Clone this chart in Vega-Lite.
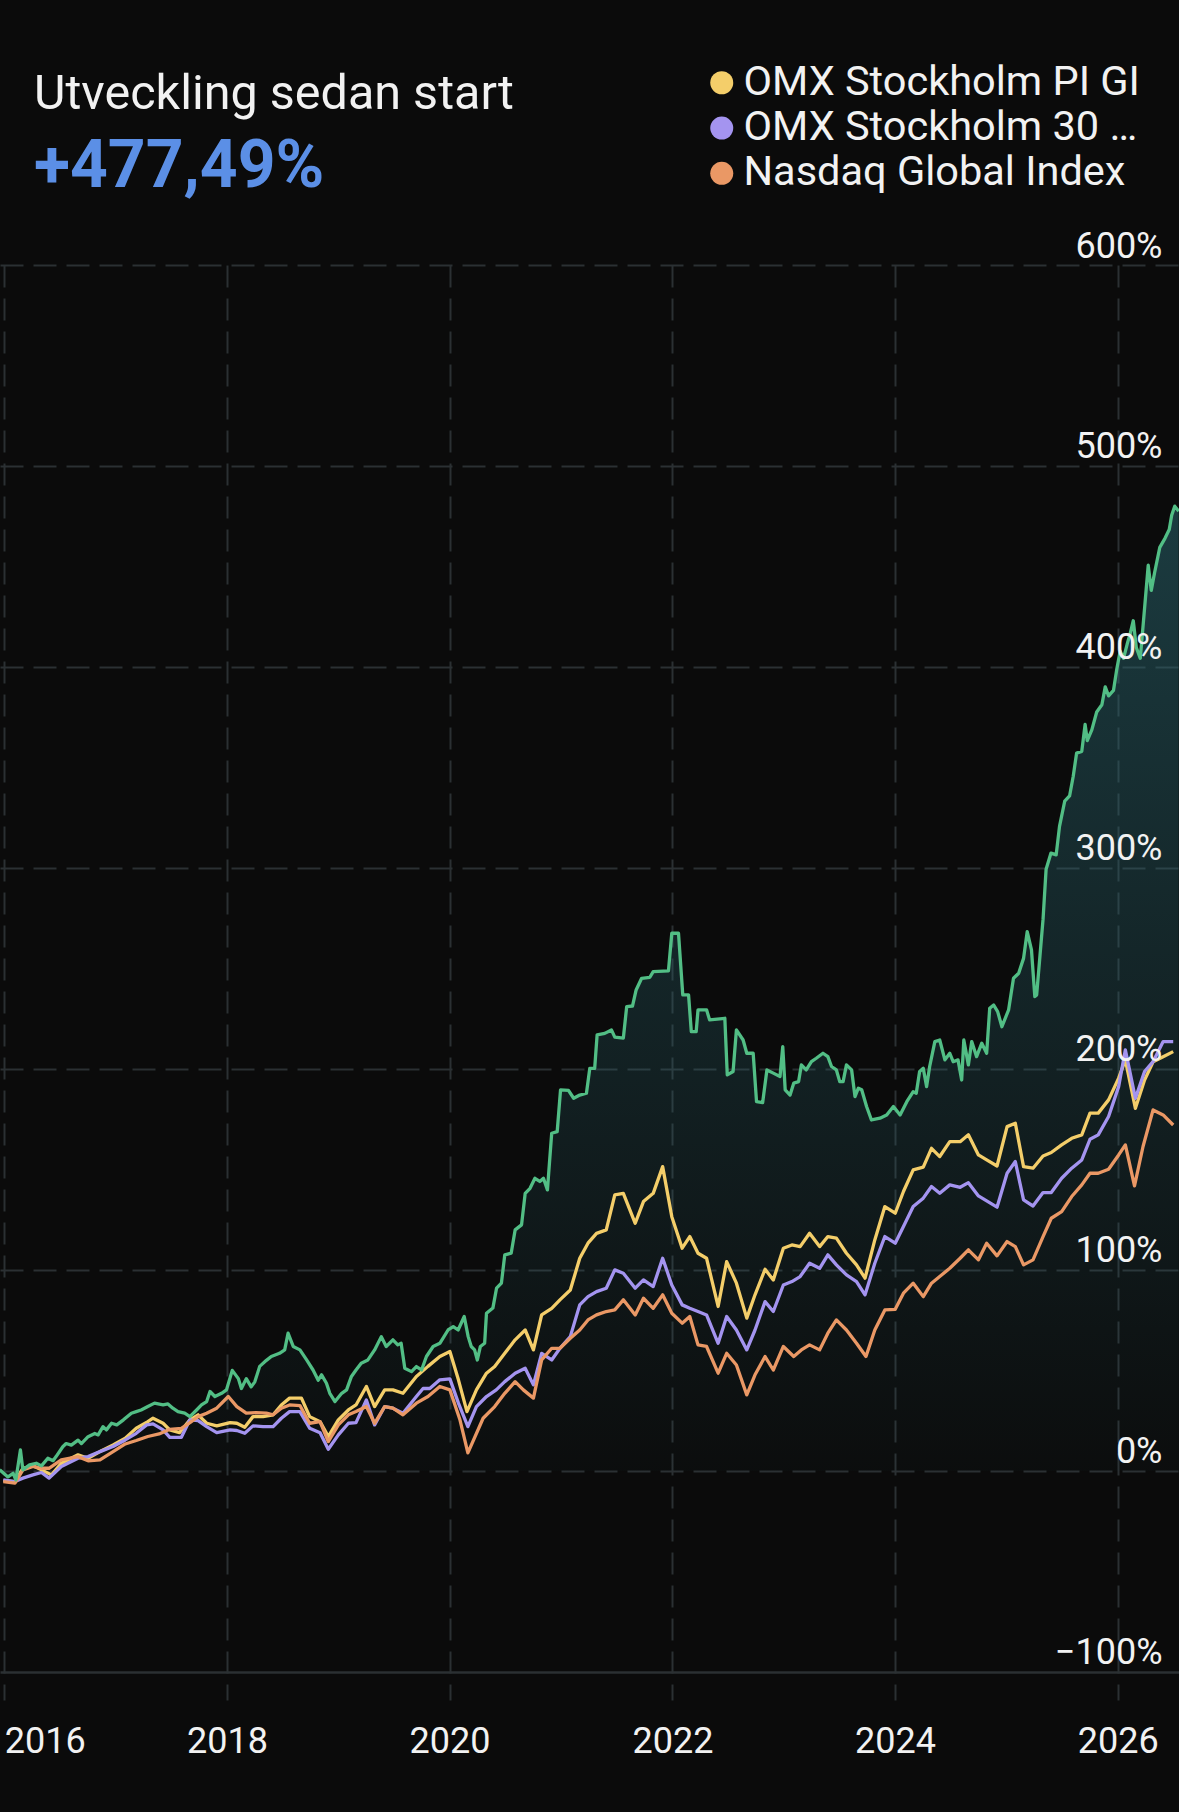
{
  "$schema": "https://vega.github.io/schema/vega-lite/v6.json",
  "width": 1179,
  "height": 1435,
  "autosize": {"type": "none"},
  "padding": {"left": 0, "top": 265, "right": 0, "bottom": 112},
  "background": "#0b0b0b",
  "title": {
    "text": "Utveckling sedan start",
    "subtitle": "+477,49%",
    "anchor": "start",
    "frame": "group",
    "dx": 34,
    "offset": -139,
    "font": "Roboto",
    "fontSize": 48.5,
    "fontWeight": "normal",
    "color": "#f2f2f2",
    "subtitleFont": "Roboto",
    "subtitleFontSize": 66,
    "subtitleFontWeight": "bold",
    "subtitleColor": "#5b8fe6",
    "subtitlePadding": 16
  },
  "datasets": {
    "fund": [
      {"date": "2015-12-17", "value": 0.5}, {"date": "2016-01-13", "value": -3}, {"date": "2016-01-30", "value": -1.2},
      {"date": "2016-02-08", "value": -4.5}, {"date": "2016-02-23", "value": 10.4}, {"date": "2016-03-02", "value": 0.5},
      {"date": "2016-03-24", "value": 3}, {"date": "2016-04-15", "value": 3.8}, {"date": "2016-05-02", "value": 2.5},
      {"date": "2016-05-23", "value": 6.3}, {"date": "2016-06-09", "value": 5.1}, {"date": "2016-06-19", "value": 7.1},
      {"date": "2016-07-11", "value": 12}, {"date": "2016-07-22", "value": 13.6}, {"date": "2016-08-08", "value": 12.8},
      {"date": "2016-08-30", "value": 15.3}, {"date": "2016-09-10", "value": 13.6}, {"date": "2016-10-02", "value": 17},
      {"date": "2016-10-24", "value": 18.6}, {"date": "2016-11-04", "value": 17.9}, {"date": "2016-11-20", "value": 22},
      {"date": "2016-12-01", "value": 20.4}, {"date": "2016-12-18", "value": 23.7}, {"date": "2017-01-04", "value": 22.9},
      {"date": "2017-01-26", "value": 25.4}, {"date": "2017-02-21", "value": 28.7}, {"date": "2017-03-09", "value": 29.5},
      {"date": "2017-03-25", "value": 30.3}, {"date": "2017-04-16", "value": 32}, {"date": "2017-05-08", "value": 33.7},
      {"date": "2017-06-05", "value": 32.8}, {"date": "2017-06-21", "value": 33.3}, {"date": "2017-07-07", "value": 31.2},
      {"date": "2017-07-24", "value": 29.5}, {"date": "2017-08-15", "value": 28.7}, {"date": "2017-09-01", "value": 27},
      {"date": "2017-09-23", "value": 30.3}, {"date": "2017-10-09", "value": 32.8}, {"date": "2017-10-26", "value": 34.5},
      {"date": "2017-11-06", "value": 39.5}, {"date": "2017-11-22", "value": 37}, {"date": "2017-12-14", "value": 38.6},
      {"date": "2017-12-30", "value": 40.3}, {"date": "2018-01-18", "value": 50}, {"date": "2018-02-07", "value": 45.9},
      {"date": "2018-02-17", "value": 41}, {"date": "2018-03-05", "value": 45.9}, {"date": "2018-03-21", "value": 41.8},
      {"date": "2018-04-02", "value": 44.3}, {"date": "2018-04-18", "value": 52}, {"date": "2018-05-10", "value": 55},
      {"date": "2018-05-26", "value": 56.9}, {"date": "2018-06-22", "value": 58.5}, {"date": "2018-07-09", "value": 60.2},
      {"date": "2018-07-20", "value": 68.5}, {"date": "2018-08-06", "value": 61.9}, {"date": "2018-08-28", "value": 60.2},
      {"date": "2018-09-19", "value": 55.2}, {"date": "2018-10-10", "value": 50.2}, {"date": "2018-10-27", "value": 45.1},
      {"date": "2018-11-07", "value": 47.8}, {"date": "2018-11-23", "value": 43.6}, {"date": "2018-12-04", "value": 38.6},
      {"date": "2018-12-21", "value": 34.5}, {"date": "2019-01-12", "value": 38.6}, {"date": "2019-01-28", "value": 40.3},
      {"date": "2019-02-13", "value": 47}, {"date": "2019-02-28", "value": 50.2}, {"date": "2019-03-17", "value": 53.6},
      {"date": "2019-04-08", "value": 55.2}, {"date": "2019-04-30", "value": 60.2}, {"date": "2019-05-22", "value": 66.8},
      {"date": "2019-06-07", "value": 61.9}, {"date": "2019-06-29", "value": 65.2}, {"date": "2019-07-15", "value": 62.7},
      {"date": "2019-07-26", "value": 63.5}, {"date": "2019-08-07", "value": 51.1}, {"date": "2019-08-29", "value": 49.4},
      {"date": "2019-09-14", "value": 51.9}, {"date": "2019-10-01", "value": 50.2}, {"date": "2019-10-17", "value": 56.9},
      {"date": "2019-11-08", "value": 61.9}, {"date": "2019-11-30", "value": 63.5}, {"date": "2019-12-27", "value": 70.1},
      {"date": "2020-01-13", "value": 71.8}, {"date": "2020-01-29", "value": 70.1}, {"date": "2020-02-18", "value": 76.8},
      {"date": "2020-03-02", "value": 66.8}, {"date": "2020-03-12", "value": 61.9}, {"date": "2020-03-23", "value": 60.2},
      {"date": "2020-04-01", "value": 55.2}, {"date": "2020-04-11", "value": 61.9}, {"date": "2020-04-25", "value": 63.5},
      {"date": "2020-05-01", "value": 78.4}, {"date": "2020-05-22", "value": 81}, {"date": "2020-06-03", "value": 90.9},
      {"date": "2020-06-19", "value": 93.4}, {"date": "2020-06-30", "value": 107.5}, {"date": "2020-07-21", "value": 108.3},
      {"date": "2020-08-03", "value": 119.9}, {"date": "2020-08-24", "value": 122.4}, {"date": "2020-09-05", "value": 138.1},
      {"date": "2020-09-21", "value": 140.6}, {"date": "2020-10-07", "value": 145.6}, {"date": "2020-10-23", "value": 144},
      {"date": "2020-11-04", "value": 145.6}, {"date": "2020-11-17", "value": 139.8}, {"date": "2020-12-01", "value": 168},
      {"date": "2020-12-19", "value": 168.8}, {"date": "2020-12-30", "value": 189.6}, {"date": "2021-01-25", "value": 189.3},
      {"date": "2021-02-11", "value": 185.4}, {"date": "2021-03-03", "value": 187}, {"date": "2021-03-25", "value": 187.9},
      {"date": "2021-04-05", "value": 200.3}, {"date": "2021-04-21", "value": 200.3}, {"date": "2021-04-29", "value": 216.9},
      {"date": "2021-05-24", "value": 217.7}, {"date": "2021-06-15", "value": 219.4}, {"date": "2021-06-26", "value": 215.8},
      {"date": "2021-07-24", "value": 215.3}, {"date": "2021-08-04", "value": 231}, {"date": "2021-08-23", "value": 231.3},
      {"date": "2021-09-04", "value": 239.3}, {"date": "2021-09-22", "value": 245.1}, {"date": "2021-10-19", "value": 245.6},
      {"date": "2021-10-30", "value": 248.4}, {"date": "2021-12-19", "value": 248.8}, {"date": "2021-12-30", "value": 267.5},
      {"date": "2022-01-21", "value": 267.5}, {"date": "2022-02-04", "value": 236.8}, {"date": "2022-02-23", "value": 236.8},
      {"date": "2022-03-04", "value": 218.6}, {"date": "2022-03-20", "value": 218.6}, {"date": "2022-03-26", "value": 229.4},
      {"date": "2022-04-23", "value": 229.4}, {"date": "2022-05-03", "value": 224.4}, {"date": "2022-06-22", "value": 225.2},
      {"date": "2022-06-30", "value": 197}, {"date": "2022-07-19", "value": 198.7}, {"date": "2022-07-30", "value": 219.4},
      {"date": "2022-08-21", "value": 214.4}, {"date": "2022-09-02", "value": 207.8}, {"date": "2022-09-23", "value": 207.8},
      {"date": "2022-10-04", "value": 183.7}, {"date": "2022-10-24", "value": 183.2}, {"date": "2022-11-07", "value": 199.5},
      {"date": "2022-11-28", "value": 197.9}, {"date": "2022-12-20", "value": 196.2}, {"date": "2022-12-29", "value": 211.1},
      {"date": "2023-01-06", "value": 189.6}, {"date": "2023-01-22", "value": 187}, {"date": "2023-02-03", "value": 192.9},
      {"date": "2023-02-19", "value": 193.7}, {"date": "2023-02-28", "value": 202}, {"date": "2023-03-16", "value": 199.5},
      {"date": "2023-04-02", "value": 203.6}, {"date": "2023-04-18", "value": 205.3}, {"date": "2023-05-10", "value": 207.8},
      {"date": "2023-05-26", "value": 206.1}, {"date": "2023-06-07", "value": 201.2}, {"date": "2023-06-23", "value": 199.5},
      {"date": "2023-07-04", "value": 193.7}, {"date": "2023-07-15", "value": 193.7}, {"date": "2023-07-26", "value": 202},
      {"date": "2023-08-12", "value": 199.5}, {"date": "2023-08-23", "value": 186.2}, {"date": "2023-09-03", "value": 190.4},
      {"date": "2023-09-14", "value": 189.6}, {"date": "2023-09-30", "value": 181.3}, {"date": "2023-10-16", "value": 174.6},
      {"date": "2023-11-13", "value": 175.5}, {"date": "2023-12-05", "value": 177.1}, {"date": "2023-12-27", "value": 181.3},
      {"date": "2024-01-18", "value": 177.1}, {"date": "2024-02-09", "value": 183.7}, {"date": "2024-03-01", "value": 188.7},
      {"date": "2024-03-11", "value": 187.9}, {"date": "2024-03-22", "value": 198.7}, {"date": "2024-04-03", "value": 200.3},
      {"date": "2024-04-14", "value": 191.2}, {"date": "2024-04-24", "value": 201.2}, {"date": "2024-05-11", "value": 213.6},
      {"date": "2024-05-27", "value": 214.4}, {"date": "2024-06-13", "value": 204.5}, {"date": "2024-06-29", "value": 207.8},
      {"date": "2024-07-10", "value": 203.6}, {"date": "2024-07-26", "value": 204.5}, {"date": "2024-08-07", "value": 194.5},
      {"date": "2024-08-14", "value": 214.4}, {"date": "2024-08-29", "value": 202}, {"date": "2024-09-09", "value": 213.6},
      {"date": "2024-09-25", "value": 206.1}, {"date": "2024-10-12", "value": 212.8}, {"date": "2024-10-28", "value": 207.8},
      {"date": "2024-11-07", "value": 230.2}, {"date": "2024-11-20", "value": 231.8}, {"date": "2024-12-03", "value": 228.5},
      {"date": "2024-12-17", "value": 221}, {"date": "2025-01-08", "value": 229.4}, {"date": "2025-01-24", "value": 245.1},
      {"date": "2025-02-10", "value": 247.6}, {"date": "2025-02-26", "value": 255}, {"date": "2025-03-10", "value": 268.3},
      {"date": "2025-03-24", "value": 259.2}, {"date": "2025-04-04", "value": 236}, {"date": "2025-04-10", "value": 236.8},
      {"date": "2025-04-21", "value": 256.5}, {"date": "2025-05-01", "value": 274.5}, {"date": "2025-05-11", "value": 299.4},
      {"date": "2025-05-27", "value": 307.4}, {"date": "2025-06-13", "value": 306.5}, {"date": "2025-06-24", "value": 320.7},
      {"date": "2025-07-11", "value": 333.2}, {"date": "2025-07-27", "value": 335.8}, {"date": "2025-08-08", "value": 345.6},
      {"date": "2025-08-19", "value": 357.1}, {"date": "2025-09-05", "value": 358}, {"date": "2025-09-16", "value": 371.4},
      {"date": "2025-09-23", "value": 363.4}, {"date": "2025-10-08", "value": 368.7}, {"date": "2025-10-24", "value": 377.6},
      {"date": "2025-11-10", "value": 381.2}, {"date": "2025-11-21", "value": 390.1}, {"date": "2025-12-02", "value": 385.6},
      {"date": "2025-12-18", "value": 388.3}, {"date": "2025-12-29", "value": 399}, {"date": "2026-01-09", "value": 407.9},
      {"date": "2026-01-20", "value": 404.3}, {"date": "2026-02-01", "value": 411.4}, {"date": "2026-02-11", "value": 416.7},
      {"date": "2026-02-21", "value": 423}, {"date": "2026-03-03", "value": 409.6}, {"date": "2026-03-16", "value": 404.3},
      {"date": "2026-03-30", "value": 429.2}, {"date": "2026-04-11", "value": 450.6}, {"date": "2026-04-21", "value": 438.1},
      {"date": "2026-05-02", "value": 447}, {"date": "2026-05-19", "value": 459.5}, {"date": "2026-06-05", "value": 464},
      {"date": "2026-06-19", "value": 468.4}, {"date": "2026-06-27", "value": 475.5}, {"date": "2026-07-07", "value": 480},
      {"date": "2026-07-20", "value": 477.49}
    ],
    "idx": [
      {"date": "2015-12-29", "series": "OMX Stockholm PI GI", "value": -4.8},
      {"date": "2016-02-05", "series": "OMX Stockholm PI GI", "value": -5.3},
      {"date": "2016-03-02", "series": "OMX Stockholm PI GI", "value": 1.3},
      {"date": "2016-04-04", "series": "OMX Stockholm PI GI", "value": 2.5},
      {"date": "2016-05-02", "series": "OMX Stockholm PI GI", "value": 0.5},
      {"date": "2016-06-04", "series": "OMX Stockholm PI GI", "value": -2},
      {"date": "2016-07-06", "series": "OMX Stockholm PI GI", "value": 3.8},
      {"date": "2016-08-30", "series": "OMX Stockholm PI GI", "value": 8},
      {"date": "2016-10-02", "series": "OMX Stockholm PI GI", "value": 6.3},
      {"date": "2016-11-10", "series": "OMX Stockholm PI GI", "value": 9.6},
      {"date": "2016-12-23", "series": "OMX Stockholm PI GI", "value": 12.9},
      {"date": "2017-02-01", "series": "OMX Stockholm PI GI", "value": 16.3},
      {"date": "2017-03-09", "series": "OMX Stockholm PI GI", "value": 21.2},
      {"date": "2017-04-16", "series": "OMX Stockholm PI GI", "value": 24.5},
      {"date": "2017-05-03", "series": "OMX Stockholm PI GI", "value": 26.2},
      {"date": "2017-06-05", "series": "OMX Stockholm PI GI", "value": 23.7},
      {"date": "2017-06-27", "series": "OMX Stockholm PI GI", "value": 20.4},
      {"date": "2017-07-29", "series": "OMX Stockholm PI GI", "value": 19},
      {"date": "2017-09-01", "series": "OMX Stockholm PI GI", "value": 25.4},
      {"date": "2017-09-28", "series": "OMX Stockholm PI GI", "value": 27.9},
      {"date": "2017-10-26", "series": "OMX Stockholm PI GI", "value": 23.7},
      {"date": "2017-11-28", "series": "OMX Stockholm PI GI", "value": 22.4},
      {"date": "2018-01-11", "series": "OMX Stockholm PI GI", "value": 24},
      {"date": "2018-02-02", "series": "OMX Stockholm PI GI", "value": 23.7},
      {"date": "2018-02-28", "series": "OMX Stockholm PI GI", "value": 21.7},
      {"date": "2018-03-27", "series": "OMX Stockholm PI GI", "value": 27},
      {"date": "2018-04-29", "series": "OMX Stockholm PI GI", "value": 27},
      {"date": "2018-06-01", "series": "OMX Stockholm PI GI", "value": 27.9},
      {"date": "2018-06-28", "series": "OMX Stockholm PI GI", "value": 32.8},
      {"date": "2018-07-25", "series": "OMX Stockholm PI GI", "value": 36.2},
      {"date": "2018-09-02", "series": "OMX Stockholm PI GI", "value": 36.2},
      {"date": "2018-09-29", "series": "OMX Stockholm PI GI", "value": 27},
      {"date": "2018-11-02", "series": "OMX Stockholm PI GI", "value": 24.5},
      {"date": "2018-11-29", "series": "OMX Stockholm PI GI", "value": 17.1},
      {"date": "2019-01-01", "series": "OMX Stockholm PI GI", "value": 25.4},
      {"date": "2019-02-03", "series": "OMX Stockholm PI GI", "value": 30.3},
      {"date": "2019-02-28", "series": "OMX Stockholm PI GI", "value": 32.8},
      {"date": "2019-04-03", "series": "OMX Stockholm PI GI", "value": 42},
      {"date": "2019-04-30", "series": "OMX Stockholm PI GI", "value": 32},
      {"date": "2019-06-02", "series": "OMX Stockholm PI GI", "value": 40.3},
      {"date": "2019-06-29", "series": "OMX Stockholm PI GI", "value": 40.3},
      {"date": "2019-08-01", "series": "OMX Stockholm PI GI", "value": 38.6},
      {"date": "2019-09-14", "series": "OMX Stockholm PI GI", "value": 47},
      {"date": "2019-10-22", "series": "OMX Stockholm PI GI", "value": 52},
      {"date": "2019-11-30", "series": "OMX Stockholm PI GI", "value": 56.9},
      {"date": "2020-01-02", "series": "OMX Stockholm PI GI", "value": 59.4},
      {"date": "2020-01-30", "series": "OMX Stockholm PI GI", "value": 45.3},
      {"date": "2020-02-27", "series": "OMX Stockholm PI GI", "value": 29.5},
      {"date": "2020-03-29", "series": "OMX Stockholm PI GI", "value": 40.3},
      {"date": "2020-05-01", "series": "OMX Stockholm PI GI", "value": 48.6},
      {"date": "2020-05-28", "series": "OMX Stockholm PI GI", "value": 51.9},
      {"date": "2020-06-30", "series": "OMX Stockholm PI GI", "value": 58.5},
      {"date": "2020-08-03", "series": "OMX Stockholm PI GI", "value": 65.2},
      {"date": "2020-09-05", "series": "OMX Stockholm PI GI", "value": 70.1},
      {"date": "2020-10-02", "series": "OMX Stockholm PI GI", "value": 60.2},
      {"date": "2020-10-29", "series": "OMX Stockholm PI GI", "value": 77.6},
      {"date": "2020-12-01", "series": "OMX Stockholm PI GI", "value": 80.9},
      {"date": "2020-12-28", "series": "OMX Stockholm PI GI", "value": 85.1},
      {"date": "2021-01-31", "series": "OMX Stockholm PI GI", "value": 90},
      {"date": "2021-03-03", "series": "OMX Stockholm PI GI", "value": 105.8},
      {"date": "2021-03-30", "series": "OMX Stockholm PI GI", "value": 113.3},
      {"date": "2021-04-27", "series": "OMX Stockholm PI GI", "value": 118.2},
      {"date": "2021-05-29", "series": "OMX Stockholm PI GI", "value": 119.9},
      {"date": "2021-06-26", "series": "OMX Stockholm PI GI", "value": 137.3},
      {"date": "2021-07-24", "series": "OMX Stockholm PI GI", "value": 138.1},
      {"date": "2021-09-01", "series": "OMX Stockholm PI GI", "value": 123.2},
      {"date": "2021-09-28", "series": "OMX Stockholm PI GI", "value": 134},
      {"date": "2021-10-30", "series": "OMX Stockholm PI GI", "value": 138.1},
      {"date": "2021-11-30", "series": "OMX Stockholm PI GI", "value": 151.4},
      {"date": "2021-12-30", "series": "OMX Stockholm PI GI", "value": 126.5},
      {"date": "2022-02-02", "series": "OMX Stockholm PI GI", "value": 110.8},
      {"date": "2022-02-27", "series": "OMX Stockholm PI GI", "value": 116.6},
      {"date": "2022-03-26", "series": "OMX Stockholm PI GI", "value": 108.3},
      {"date": "2022-04-23", "series": "OMX Stockholm PI GI", "value": 105.8},
      {"date": "2022-05-31", "series": "OMX Stockholm PI GI", "value": 81.8},
      {"date": "2022-06-28", "series": "OMX Stockholm PI GI", "value": 104.1},
      {"date": "2022-07-30", "series": "OMX Stockholm PI GI", "value": 93.4},
      {"date": "2022-09-02", "series": "OMX Stockholm PI GI", "value": 76},
      {"date": "2022-09-29", "series": "OMX Stockholm PI GI", "value": 87.6},
      {"date": "2022-11-01", "series": "OMX Stockholm PI GI", "value": 100.3},
      {"date": "2022-11-28", "series": "OMX Stockholm PI GI", "value": 95},
      {"date": "2022-12-31", "series": "OMX Stockholm PI GI", "value": 110.8},
      {"date": "2023-01-28", "series": "OMX Stockholm PI GI", "value": 112.4},
      {"date": "2023-02-24", "series": "OMX Stockholm PI GI", "value": 111.6},
      {"date": "2023-03-27", "series": "OMX Stockholm PI GI", "value": 118.2},
      {"date": "2023-04-29", "series": "OMX Stockholm PI GI", "value": 111.6},
      {"date": "2023-05-26", "series": "OMX Stockholm PI GI", "value": 116.6},
      {"date": "2023-06-23", "series": "OMX Stockholm PI GI", "value": 115.8},
      {"date": "2023-07-26", "series": "OMX Stockholm PI GI", "value": 108.3},
      {"date": "2023-08-28", "series": "OMX Stockholm PI GI", "value": 102.5},
      {"date": "2023-09-25", "series": "OMX Stockholm PI GI", "value": 95.9},
      {"date": "2023-10-27", "series": "OMX Stockholm PI GI", "value": 114.9},
      {"date": "2023-11-29", "series": "OMX Stockholm PI GI", "value": 131.5},
      {"date": "2024-01-02", "series": "OMX Stockholm PI GI", "value": 128.2},
      {"date": "2024-01-29", "series": "OMX Stockholm PI GI", "value": 139},
      {"date": "2024-03-01", "series": "OMX Stockholm PI GI", "value": 149.8},
      {"date": "2024-04-03", "series": "OMX Stockholm PI GI", "value": 151.1},
      {"date": "2024-04-30", "series": "OMX Stockholm PI GI", "value": 160.5},
      {"date": "2024-05-27", "series": "OMX Stockholm PI GI", "value": 156.4},
      {"date": "2024-06-29", "series": "OMX Stockholm PI GI", "value": 163.8},
      {"date": "2024-08-02", "series": "OMX Stockholm PI GI", "value": 163.8},
      {"date": "2024-08-29", "series": "OMX Stockholm PI GI", "value": 167.2},
      {"date": "2024-10-01", "series": "OMX Stockholm PI GI", "value": 157.2},
      {"date": "2024-10-28", "series": "OMX Stockholm PI GI", "value": 154.7},
      {"date": "2024-12-01", "series": "OMX Stockholm PI GI", "value": 151.7},
      {"date": "2025-01-03", "series": "OMX Stockholm PI GI", "value": 171.3},
      {"date": "2025-01-30", "series": "OMX Stockholm PI GI", "value": 173},
      {"date": "2025-02-26", "series": "OMX Stockholm PI GI", "value": 151.4},
      {"date": "2025-03-29", "series": "OMX Stockholm PI GI", "value": 150.6},
      {"date": "2025-05-01", "series": "OMX Stockholm PI GI", "value": 156.7},
      {"date": "2025-05-28", "series": "OMX Stockholm PI GI", "value": 158.4},
      {"date": "2025-07-01", "series": "OMX Stockholm PI GI", "value": 162.2},
      {"date": "2025-08-03", "series": "OMX Stockholm PI GI", "value": 165.5},
      {"date": "2025-09-05", "series": "OMX Stockholm PI GI", "value": 167.2},
      {"date": "2025-10-02", "series": "OMX Stockholm PI GI", "value": 178},
      {"date": "2025-10-29", "series": "OMX Stockholm PI GI", "value": 178},
      {"date": "2025-12-02", "series": "OMX Stockholm PI GI", "value": 184.6},
      {"date": "2026-01-04", "series": "OMX Stockholm PI GI", "value": 195.4},
      {"date": "2026-01-26", "series": "OMX Stockholm PI GI", "value": 204.5},
      {"date": "2026-02-28", "series": "OMX Stockholm PI GI", "value": 180.4},
      {"date": "2026-03-30", "series": "OMX Stockholm PI GI", "value": 194.5},
      {"date": "2026-04-27", "series": "OMX Stockholm PI GI", "value": 203.6},
      {"date": "2026-05-30", "series": "OMX Stockholm PI GI", "value": 206.1},
      {"date": "2026-07-02", "series": "OMX Stockholm PI GI", "value": 208.6},

      {"date": "2015-12-29", "series": "OMX Stockholm 30 …", "value": -4.5},
      {"date": "2016-02-05", "series": "OMX Stockholm 30 …", "value": -5.3},
      {"date": "2016-03-02", "series": "OMX Stockholm 30 …", "value": -3.6},
      {"date": "2016-04-04", "series": "OMX Stockholm 30 …", "value": -2},
      {"date": "2016-05-02", "series": "OMX Stockholm 30 …", "value": -0.8},
      {"date": "2016-05-27", "series": "OMX Stockholm 30 …", "value": -3.6},
      {"date": "2016-07-06", "series": "OMX Stockholm 30 …", "value": 2.2},
      {"date": "2016-08-30", "series": "OMX Stockholm 30 …", "value": 6.3},
      {"date": "2016-10-02", "series": "OMX Stockholm 30 …", "value": 7.1},
      {"date": "2016-11-10", "series": "OMX Stockholm 30 …", "value": 9.6},
      {"date": "2016-12-23", "series": "OMX Stockholm 30 …", "value": 12.1},
      {"date": "2017-02-01", "series": "OMX Stockholm 30 …", "value": 15.4},
      {"date": "2017-03-09", "series": "OMX Stockholm 30 …", "value": 18.7},
      {"date": "2017-04-12", "series": "OMX Stockholm 30 …", "value": 22.9},
      {"date": "2017-05-03", "series": "OMX Stockholm 30 …", "value": 23.4},
      {"date": "2017-06-05", "series": "OMX Stockholm 30 …", "value": 20.4},
      {"date": "2017-06-27", "series": "OMX Stockholm 30 …", "value": 16.7},
      {"date": "2017-08-04", "series": "OMX Stockholm 30 …", "value": 16.7},
      {"date": "2017-09-01", "series": "OMX Stockholm 30 …", "value": 25.4},
      {"date": "2017-09-28", "series": "OMX Stockholm 30 …", "value": 25},
      {"date": "2017-10-26", "series": "OMX Stockholm 30 …", "value": 22},
      {"date": "2017-11-28", "series": "OMX Stockholm 30 …", "value": 19},
      {"date": "2018-01-11", "series": "OMX Stockholm 30 …", "value": 20.4},
      {"date": "2018-02-02", "series": "OMX Stockholm 30 …", "value": 20.1},
      {"date": "2018-02-28", "series": "OMX Stockholm 30 …", "value": 18.7},
      {"date": "2018-03-27", "series": "OMX Stockholm 30 …", "value": 22.4},
      {"date": "2018-04-29", "series": "OMX Stockholm 30 …", "value": 22},
      {"date": "2018-06-01", "series": "OMX Stockholm 30 …", "value": 22},
      {"date": "2018-06-28", "series": "OMX Stockholm 30 …", "value": 26.2},
      {"date": "2018-07-25", "series": "OMX Stockholm 30 …", "value": 29.5},
      {"date": "2018-08-28", "series": "OMX Stockholm 30 …", "value": 29.5},
      {"date": "2018-09-29", "series": "OMX Stockholm 30 …", "value": 21.2},
      {"date": "2018-11-02", "series": "OMX Stockholm 30 …", "value": 19},
      {"date": "2018-11-29", "series": "OMX Stockholm 30 …", "value": 10.8},
      {"date": "2019-01-01", "series": "OMX Stockholm 30 …", "value": 17.9},
      {"date": "2019-02-03", "series": "OMX Stockholm 30 …", "value": 23.7},
      {"date": "2019-02-28", "series": "OMX Stockholm 30 …", "value": 24},
      {"date": "2019-04-03", "series": "OMX Stockholm 30 …", "value": 35.3},
      {"date": "2019-04-30", "series": "OMX Stockholm 30 …", "value": 22.9},
      {"date": "2019-06-02", "series": "OMX Stockholm 30 …", "value": 32},
      {"date": "2019-06-29", "series": "OMX Stockholm 30 …", "value": 31.2},
      {"date": "2019-08-01", "series": "OMX Stockholm 30 …", "value": 28.7},
      {"date": "2019-09-14", "series": "OMX Stockholm 30 …", "value": 37},
      {"date": "2019-10-06", "series": "OMX Stockholm 30 …", "value": 41},
      {"date": "2019-10-28", "series": "OMX Stockholm 30 …", "value": 41},
      {"date": "2019-11-30", "series": "OMX Stockholm 30 …", "value": 45.3},
      {"date": "2020-01-02", "series": "OMX Stockholm 30 …", "value": 45.8},
      {"date": "2020-01-30", "series": "OMX Stockholm 30 …", "value": 33.7},
      {"date": "2020-03-01", "series": "OMX Stockholm 30 …", "value": 22},
      {"date": "2020-03-29", "series": "OMX Stockholm 30 …", "value": 32},
      {"date": "2020-05-01", "series": "OMX Stockholm 30 …", "value": 37},
      {"date": "2020-06-02", "series": "OMX Stockholm 30 …", "value": 40.3},
      {"date": "2020-06-30", "series": "OMX Stockholm 30 …", "value": 44.4},
      {"date": "2020-08-03", "series": "OMX Stockholm 30 …", "value": 48.6},
      {"date": "2020-09-05", "series": "OMX Stockholm 30 …", "value": 51.1},
      {"date": "2020-10-02", "series": "OMX Stockholm 30 …", "value": 42.8},
      {"date": "2020-10-29", "series": "OMX Stockholm 30 …", "value": 58.5},
      {"date": "2020-12-01", "series": "OMX Stockholm 30 …", "value": 55.2},
      {"date": "2020-12-28", "series": "OMX Stockholm 30 …", "value": 61},
      {"date": "2021-01-31", "series": "OMX Stockholm 30 …", "value": 66.8},
      {"date": "2021-03-03", "series": "OMX Stockholm 30 …", "value": 82.6},
      {"date": "2021-03-30", "series": "OMX Stockholm 30 …", "value": 86.7},
      {"date": "2021-04-27", "series": "OMX Stockholm 30 …", "value": 89.2},
      {"date": "2021-05-29", "series": "OMX Stockholm 30 …", "value": 90.9},
      {"date": "2021-06-26", "series": "OMX Stockholm 30 …", "value": 100},
      {"date": "2021-07-24", "series": "OMX Stockholm 30 …", "value": 98.3},
      {"date": "2021-09-01", "series": "OMX Stockholm 30 …", "value": 90.9},
      {"date": "2021-09-28", "series": "OMX Stockholm 30 …", "value": 95},
      {"date": "2021-10-30", "series": "OMX Stockholm 30 …", "value": 91.7},
      {"date": "2021-11-30", "series": "OMX Stockholm 30 …", "value": 105.8},
      {"date": "2021-12-30", "series": "OMX Stockholm 30 …", "value": 92.5},
      {"date": "2022-02-02", "series": "OMX Stockholm 30 …", "value": 82.6},
      {"date": "2022-02-27", "series": "OMX Stockholm 30 …", "value": 80.9},
      {"date": "2022-03-26", "series": "OMX Stockholm 30 …", "value": 79.3},
      {"date": "2022-04-23", "series": "OMX Stockholm 30 …", "value": 77.6},
      {"date": "2022-05-31", "series": "OMX Stockholm 30 …", "value": 63.5},
      {"date": "2022-06-28", "series": "OMX Stockholm 30 …", "value": 76.8},
      {"date": "2022-07-30", "series": "OMX Stockholm 30 …", "value": 70.1},
      {"date": "2022-09-02", "series": "OMX Stockholm 30 …", "value": 60.2},
      {"date": "2022-09-29", "series": "OMX Stockholm 30 …", "value": 70.1},
      {"date": "2022-11-01", "series": "OMX Stockholm 30 …", "value": 84.2},
      {"date": "2022-11-28", "series": "OMX Stockholm 30 …", "value": 79.3},
      {"date": "2022-12-31", "series": "OMX Stockholm 30 …", "value": 92.5},
      {"date": "2023-01-28", "series": "OMX Stockholm 30 …", "value": 94.2},
      {"date": "2023-02-24", "series": "OMX Stockholm 30 …", "value": 96.7},
      {"date": "2023-03-27", "series": "OMX Stockholm 30 …", "value": 103.3},
      {"date": "2023-04-29", "series": "OMX Stockholm 30 …", "value": 100.8},
      {"date": "2023-05-26", "series": "OMX Stockholm 30 …", "value": 107.5},
      {"date": "2023-06-23", "series": "OMX Stockholm 30 …", "value": 102.5},
      {"date": "2023-07-26", "series": "OMX Stockholm 30 …", "value": 97.5},
      {"date": "2023-08-28", "series": "OMX Stockholm 30 …", "value": 94.2},
      {"date": "2023-09-25", "series": "OMX Stockholm 30 …", "value": 87.6},
      {"date": "2023-10-27", "series": "OMX Stockholm 30 …", "value": 103.3},
      {"date": "2023-11-29", "series": "OMX Stockholm 30 …", "value": 116.6},
      {"date": "2024-01-02", "series": "OMX Stockholm 30 …", "value": 113.3},
      {"date": "2024-01-29", "series": "OMX Stockholm 30 …", "value": 121.6},
      {"date": "2024-03-01", "series": "OMX Stockholm 30 …", "value": 131.5},
      {"date": "2024-04-03", "series": "OMX Stockholm 30 …", "value": 135.7},
      {"date": "2024-04-30", "series": "OMX Stockholm 30 …", "value": 141.5},
      {"date": "2024-05-27", "series": "OMX Stockholm 30 …", "value": 138.1},
      {"date": "2024-06-29", "series": "OMX Stockholm 30 …", "value": 142.3},
      {"date": "2024-08-02", "series": "OMX Stockholm 30 …", "value": 141.1},
      {"date": "2024-08-29", "series": "OMX Stockholm 30 …", "value": 143.4},
      {"date": "2024-10-01", "series": "OMX Stockholm 30 …", "value": 136.8},
      {"date": "2024-10-28", "series": "OMX Stockholm 30 …", "value": 134.3},
      {"date": "2024-12-01", "series": "OMX Stockholm 30 …", "value": 131.2},
      {"date": "2025-01-03", "series": "OMX Stockholm 30 …", "value": 148.1},
      {"date": "2025-01-30", "series": "OMX Stockholm 30 …", "value": 153.9},
      {"date": "2025-02-26", "series": "OMX Stockholm 30 …", "value": 134.8},
      {"date": "2025-03-29", "series": "OMX Stockholm 30 …", "value": 131.8},
      {"date": "2025-05-01", "series": "OMX Stockholm 30 …", "value": 138.5},
      {"date": "2025-05-28", "series": "OMX Stockholm 30 …", "value": 138.5},
      {"date": "2025-07-01", "series": "OMX Stockholm 30 …", "value": 145.6},
      {"date": "2025-08-03", "series": "OMX Stockholm 30 …", "value": 150.6},
      {"date": "2025-09-05", "series": "OMX Stockholm 30 …", "value": 154.7},
      {"date": "2025-10-02", "series": "OMX Stockholm 30 …", "value": 165},
      {"date": "2025-10-29", "series": "OMX Stockholm 30 …", "value": 167.2},
      {"date": "2025-12-02", "series": "OMX Stockholm 30 …", "value": 176.3},
      {"date": "2026-01-04", "series": "OMX Stockholm 30 …", "value": 191.2},
      {"date": "2026-01-26", "series": "OMX Stockholm 30 …", "value": 209.5},
      {"date": "2026-02-28", "series": "OMX Stockholm 30 …", "value": 185.4},
      {"date": "2026-03-30", "series": "OMX Stockholm 30 …", "value": 198.7},
      {"date": "2026-04-27", "series": "OMX Stockholm 30 …", "value": 203.6},
      {"date": "2026-05-30", "series": "OMX Stockholm 30 …", "value": 213.6},
      {"date": "2026-07-02", "series": "OMX Stockholm 30 …", "value": 213.6},

      {"date": "2015-12-29", "series": "Nasdaq Global Index", "value": -5.3},
      {"date": "2016-02-05", "series": "Nasdaq Global Index", "value": -6.1},
      {"date": "2016-03-02", "series": "Nasdaq Global Index", "value": 0.5},
      {"date": "2016-04-04", "series": "Nasdaq Global Index", "value": 2.2},
      {"date": "2016-05-02", "series": "Nasdaq Global Index", "value": 1.3},
      {"date": "2016-05-27", "series": "Nasdaq Global Index", "value": 1.3},
      {"date": "2016-07-06", "series": "Nasdaq Global Index", "value": 5.5},
      {"date": "2016-08-30", "series": "Nasdaq Global Index", "value": 7.1},
      {"date": "2016-10-02", "series": "Nasdaq Global Index", "value": 5},
      {"date": "2016-11-10", "series": "Nasdaq Global Index", "value": 5.5},
      {"date": "2016-12-23", "series": "Nasdaq Global Index", "value": 9.6},
      {"date": "2017-02-01", "series": "Nasdaq Global Index", "value": 13.4},
      {"date": "2017-03-09", "series": "Nasdaq Global Index", "value": 15.1},
      {"date": "2017-04-16", "series": "Nasdaq Global Index", "value": 17.1},
      {"date": "2017-05-23", "series": "Nasdaq Global Index", "value": 18.4},
      {"date": "2017-06-27", "series": "Nasdaq Global Index", "value": 20.7},
      {"date": "2017-08-04", "series": "Nasdaq Global Index", "value": 21.2},
      {"date": "2017-09-01", "series": "Nasdaq Global Index", "value": 24},
      {"date": "2017-09-28", "series": "Nasdaq Global Index", "value": 27},
      {"date": "2017-10-26", "series": "Nasdaq Global Index", "value": 28.7},
      {"date": "2017-11-28", "series": "Nasdaq Global Index", "value": 31.2},
      {"date": "2018-01-05", "series": "Nasdaq Global Index", "value": 37},
      {"date": "2018-02-02", "series": "Nasdaq Global Index", "value": 32},
      {"date": "2018-03-05", "series": "Nasdaq Global Index", "value": 28.7},
      {"date": "2018-04-06", "series": "Nasdaq Global Index", "value": 29},
      {"date": "2018-05-10", "series": "Nasdaq Global Index", "value": 28.7},
      {"date": "2018-06-01", "series": "Nasdaq Global Index", "value": 27.9},
      {"date": "2018-06-28", "series": "Nasdaq Global Index", "value": 31.2},
      {"date": "2018-07-25", "series": "Nasdaq Global Index", "value": 32.8},
      {"date": "2018-08-28", "series": "Nasdaq Global Index", "value": 32.5},
      {"date": "2018-09-29", "series": "Nasdaq Global Index", "value": 23.7},
      {"date": "2018-11-02", "series": "Nasdaq Global Index", "value": 24.5},
      {"date": "2018-11-29", "series": "Nasdaq Global Index", "value": 14.6},
      {"date": "2019-01-01", "series": "Nasdaq Global Index", "value": 22.9},
      {"date": "2019-02-03", "series": "Nasdaq Global Index", "value": 27.9},
      {"date": "2019-02-28", "series": "Nasdaq Global Index", "value": 29.5},
      {"date": "2019-04-03", "series": "Nasdaq Global Index", "value": 32},
      {"date": "2019-04-30", "series": "Nasdaq Global Index", "value": 23.7},
      {"date": "2019-06-02", "series": "Nasdaq Global Index", "value": 32},
      {"date": "2019-06-29", "series": "Nasdaq Global Index", "value": 31.2},
      {"date": "2019-08-01", "series": "Nasdaq Global Index", "value": 27.9},
      {"date": "2019-09-14", "series": "Nasdaq Global Index", "value": 33.7},
      {"date": "2019-10-22", "series": "Nasdaq Global Index", "value": 37},
      {"date": "2019-11-30", "series": "Nasdaq Global Index", "value": 42},
      {"date": "2020-01-02", "series": "Nasdaq Global Index", "value": 40.3},
      {"date": "2020-02-04", "series": "Nasdaq Global Index", "value": 25.4},
      {"date": "2020-03-01", "series": "Nasdaq Global Index", "value": 9},
      {"date": "2020-04-20", "series": "Nasdaq Global Index", "value": 26.2},
      {"date": "2020-05-28", "series": "Nasdaq Global Index", "value": 32},
      {"date": "2020-06-30", "series": "Nasdaq Global Index", "value": 38.6},
      {"date": "2020-08-03", "series": "Nasdaq Global Index", "value": 44.4},
      {"date": "2020-08-30", "series": "Nasdaq Global Index", "value": 40.3},
      {"date": "2020-10-02", "series": "Nasdaq Global Index", "value": 36.2},
      {"date": "2020-10-29", "series": "Nasdaq Global Index", "value": 55.2},
      {"date": "2020-12-01", "series": "Nasdaq Global Index", "value": 61},
      {"date": "2020-12-28", "series": "Nasdaq Global Index", "value": 61},
      {"date": "2021-01-31", "series": "Nasdaq Global Index", "value": 66},
      {"date": "2021-03-03", "series": "Nasdaq Global Index", "value": 70.1},
      {"date": "2021-03-30", "series": "Nasdaq Global Index", "value": 75.1},
      {"date": "2021-04-27", "series": "Nasdaq Global Index", "value": 77.6},
      {"date": "2021-05-29", "series": "Nasdaq Global Index", "value": 79.3},
      {"date": "2021-06-26", "series": "Nasdaq Global Index", "value": 80.1},
      {"date": "2021-07-24", "series": "Nasdaq Global Index", "value": 85.1},
      {"date": "2021-09-01", "series": "Nasdaq Global Index", "value": 77.6},
      {"date": "2021-09-28", "series": "Nasdaq Global Index", "value": 85.9},
      {"date": "2021-10-30", "series": "Nasdaq Global Index", "value": 80.9},
      {"date": "2021-11-30", "series": "Nasdaq Global Index", "value": 87.6},
      {"date": "2021-12-30", "series": "Nasdaq Global Index", "value": 78.4},
      {"date": "2022-02-02", "series": "Nasdaq Global Index", "value": 73.5},
      {"date": "2022-02-27", "series": "Nasdaq Global Index", "value": 76.8},
      {"date": "2022-03-26", "series": "Nasdaq Global Index", "value": 62.7},
      {"date": "2022-04-23", "series": "Nasdaq Global Index", "value": 61.9},
      {"date": "2022-05-31", "series": "Nasdaq Global Index", "value": 48.6},
      {"date": "2022-06-28", "series": "Nasdaq Global Index", "value": 58.5},
      {"date": "2022-07-30", "series": "Nasdaq Global Index", "value": 52.7},
      {"date": "2022-09-02", "series": "Nasdaq Global Index", "value": 37.8},
      {"date": "2022-09-29", "series": "Nasdaq Global Index", "value": 47.8},
      {"date": "2022-11-01", "series": "Nasdaq Global Index", "value": 56.9},
      {"date": "2022-11-28", "series": "Nasdaq Global Index", "value": 50.2},
      {"date": "2022-12-31", "series": "Nasdaq Global Index", "value": 61.9},
      {"date": "2023-02-03", "series": "Nasdaq Global Index", "value": 56.9},
      {"date": "2023-02-28", "series": "Nasdaq Global Index", "value": 60.2},
      {"date": "2023-03-27", "series": "Nasdaq Global Index", "value": 62.7},
      {"date": "2023-04-29", "series": "Nasdaq Global Index", "value": 60.2},
      {"date": "2023-05-26", "series": "Nasdaq Global Index", "value": 68.5},
      {"date": "2023-06-23", "series": "Nasdaq Global Index", "value": 75.1},
      {"date": "2023-07-26", "series": "Nasdaq Global Index", "value": 70.1},
      {"date": "2023-08-28", "series": "Nasdaq Global Index", "value": 63.5},
      {"date": "2023-09-28", "series": "Nasdaq Global Index", "value": 56.9},
      {"date": "2023-10-27", "series": "Nasdaq Global Index", "value": 70.1},
      {"date": "2023-11-29", "series": "Nasdaq Global Index", "value": 80.1},
      {"date": "2024-01-02", "series": "Nasdaq Global Index", "value": 80.4},
      {"date": "2024-01-29", "series": "Nasdaq Global Index", "value": 88.4},
      {"date": "2024-03-01", "series": "Nasdaq Global Index", "value": 93.4},
      {"date": "2024-04-03", "series": "Nasdaq Global Index", "value": 86.7},
      {"date": "2024-04-30", "series": "Nasdaq Global Index", "value": 93.4},
      {"date": "2024-06-02", "series": "Nasdaq Global Index", "value": 97.5},
      {"date": "2024-06-29", "series": "Nasdaq Global Index", "value": 100.8},
      {"date": "2024-08-02", "series": "Nasdaq Global Index", "value": 105.8},
      {"date": "2024-08-29", "series": "Nasdaq Global Index", "value": 110},
      {"date": "2024-10-01", "series": "Nasdaq Global Index", "value": 105},
      {"date": "2024-10-28", "series": "Nasdaq Global Index", "value": 113.3},
      {"date": "2024-12-01", "series": "Nasdaq Global Index", "value": 107},
      {"date": "2025-01-03", "series": "Nasdaq Global Index", "value": 114.1},
      {"date": "2025-01-30", "series": "Nasdaq Global Index", "value": 111.6},
      {"date": "2025-02-26", "series": "Nasdaq Global Index", "value": 102.5},
      {"date": "2025-03-29", "series": "Nasdaq Global Index", "value": 105},
      {"date": "2025-05-01", "series": "Nasdaq Global Index", "value": 116.6},
      {"date": "2025-05-28", "series": "Nasdaq Global Index", "value": 125.7},
      {"date": "2025-07-01", "series": "Nasdaq Global Index", "value": 129},
      {"date": "2025-08-03", "series": "Nasdaq Global Index", "value": 136.5},
      {"date": "2025-09-05", "series": "Nasdaq Global Index", "value": 142.3},
      {"date": "2025-10-02", "series": "Nasdaq Global Index", "value": 148.1},
      {"date": "2025-10-29", "series": "Nasdaq Global Index", "value": 148.1},
      {"date": "2025-12-02", "series": "Nasdaq Global Index", "value": 150.1},
      {"date": "2026-01-04", "series": "Nasdaq Global Index", "value": 157.2},
      {"date": "2026-01-26", "series": "Nasdaq Global Index", "value": 162.2},
      {"date": "2026-02-25", "series": "Nasdaq Global Index", "value": 141.8},
      {"date": "2026-03-25", "series": "Nasdaq Global Index", "value": 161.4},
      {"date": "2026-04-27", "series": "Nasdaq Global Index", "value": 179.6},
      {"date": "2026-05-30", "series": "Nasdaq Global Index", "value": 177.1},
      {"date": "2026-07-02", "series": "Nasdaq Global Index", "value": 172.1}
    ]
  },
  "encoding": {
    "x": {
      "field": "date",
      "type": "temporal",
      "scale": {"domain": ["2015-12-18", "2026-07-21"]},
      "axis": {
        "title": null,
        "values": [
          {"year": 2016, "month": 1, "date": 1}, {"year": 2018, "month": 1, "date": 1},
          {"year": 2020, "month": 1, "date": 1}, {"year": 2022, "month": 1, "date": 1},
          {"year": 2024, "month": 1, "date": 1}, {"year": 2026, "month": 1, "date": 1}
        ],
        "format": "%Y",
        "domain": false,
        "ticks": false,
        "tickSize": 0,
        "labelPadding": 52,
        "labelBaseline": "alphabetic",
        "labelFlush": 10,
        "labelFontSize": 36,
        "labelColor": "#f2f2f2",
        "grid": true,
        "gridColor": "#2b3033",
        "gridWidth": 2,
        "gridDash": [22, 11]
      }
    }
  },
  "layer": [
    {
      "data": {"name": "fund"},
      "mark": {
        "type": "area",
        "clip": true,
        "fill": {
          "gradient": "linear",
          "x1": 0, "y1": 0, "x2": 0, "y2": 1,
          "stops": [
            {"offset": 0, "color": "rgba(43,107,117,0.5)"},
            {"offset": 1, "color": "rgba(43,107,117,0.02)"}
          ]
        }
      },
      "encoding": {
        "y": {
          "field": "value",
          "type": "quantitative",
          "scale": {"domain": [-114, 600], "nice": false, "zero": false},
          "axis": {
            "title": null,
            "orient": "left",
            "values": [-100, 0, 100, 200, 300, 400, 500, 600],
            "labels": false,
            "domain": false,
            "ticks": false,
            "grid": true,
            "gridColor": "#2b3033",
            "gridWidth": {"condition": {"test": "datum.value === -100", "value": 2.5}, "value": 2},
            "gridDash": {"condition": {"test": "datum.value === -100", "value": []}, "value": [23, 10]}
          }
        },
        "y2": {"datum": 0}
      }
    },
    {
      "data": {"name": "idx"},
      "mark": {"type": "line", "clip": true, "strokeWidth": 3.3, "strokeJoin": "round"},
      "encoding": {
        "y": {
          "field": "value",
          "type": "quantitative",
          "scale": {"domain": [-114, 600], "nice": false, "zero": false},
          "axis": {
            "title": null,
            "orient": "right",
            "zindex": 1,
            "values": [-100, 0, 100, 200, 300, 400, 500, 600],
            "labelExpr": "format(datum.value, 'd') + '%'",
            "grid": false,
            "domain": false,
            "ticks": false,
            "tickSize": 0,
            "labelAlign": "right",
            "labelPadding": -17,
            "labelBaseline": "alphabetic",
            "labelOffset": -8,
            "labelFontSize": 36,
            "labelColor": "#f2f2f2"
          }
        },
        "color": {
          "field": "series",
          "type": "nominal",
          "scale": {
            "domain": ["OMX Stockholm PI GI", "OMX Stockholm 30 …", "Nasdaq Global Index"],
            "range": ["#f4ce6a", "#a494f0", "#ea9865"]
          },
          "legend": {
            "title": null,
            "orient": "none",
            "legendX": 701,
            "legendY": -203,
            "padding": 0,
            "symbolType": "circle",
            "symbolSize": 529,
            "symbolStrokeWidth": 0,
            "labelFont": "Roboto",
            "labelFontSize": 41.5,
            "labelColor": "#f2f2f2",
            "labelOffset": 1,
            "labelLimit": 600,
            "rowPadding": 2.3,
            "encode": {
              "symbols": {
                "update": {
                  "fill": {"scale": "color", "field": "value"},
                  "fillOpacity": {"value": 1},
                  "strokeWidth": {"value": 0}
                }
              }
            }
          }
        }
      }
    },
    {
      "data": {"name": "fund"},
      "mark": {"type": "line", "clip": true, "color": "#52be85", "strokeWidth": 3.3, "strokeJoin": "round"},
      "encoding": {
        "y": {
          "field": "value",
          "type": "quantitative",
          "scale": {"domain": [-114, 600], "nice": false, "zero": false},
          "axis": null
        }
      }
    }
  ],
  "resolve": {"scale": {"y": "shared"}, "axis": {"y": "independent"}},
  "config": {
    "font": "Roboto",
    "view": {"stroke": null},
    "axis": {"labelFont": "Roboto"}
  }
}
